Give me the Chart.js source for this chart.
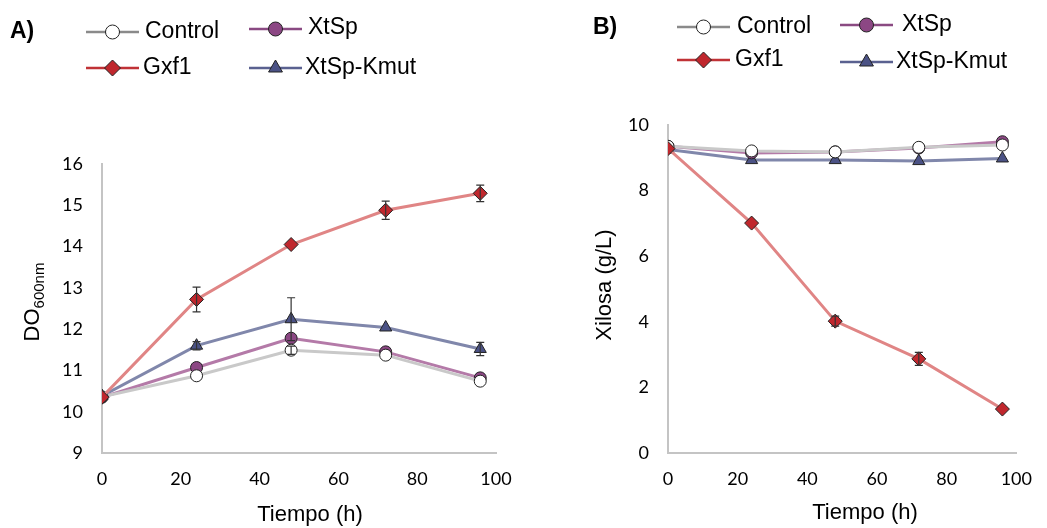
<!DOCTYPE html>
<html>
<head>
<meta charset="utf-8">
<script src="https://cdn.jsdelivr.net/npm/chart.js@4"></script>
<style>
  html, body { margin: 0; padding: 0; background: #fff; }
  #wrap { position: relative; width: 1047px; height: 528px; }
  #left { position: absolute; left: 0; top: 0; }
  #right { position: absolute; left: 535px; top: 0; }
</style>
</head>
<body>
<div id="wrap">
  <canvas id="left" width="535" height="528"></canvas>
  <canvas id="right" width="512" height="528"></canvas>
</div>
<script>
// sampling times (h)
const hours = [0, 24, 48, 72, 96];
const xTicks = [0, 20, 40, 60, 80, 100];

// A) DO600nm
const odControl = [10.36, 10.87, 11.49, 11.37, 10.74];
const odXtSp = [10.35, 11.07, 11.78, 11.45, 10.82];
const odGxf1 = [10.35, 12.72, 14.05, 14.88, 15.29];
const odKmut = [10.38, 11.6, 12.24, 12.04, 11.52];
const odControlErr = [0.03, 0.05, 0.1, 0.05, 0.05];
const odXtSpErr = [0.03, 0.08, 0.05, 0.05, 0.04];
const odGxf1Err = [0.05, 0.3, 0.05, 0.22, 0.2];
const odKmutErr = [0.05, 0.1, 0.52, 0.05, 0.16];

// B) Xilosa (g/L)
const xyControl = [9.35, 9.21, 9.18, 9.32, 9.39];
const xyXtSp = [9.35, 9.15, 9.18, 9.3, 9.49];
const xyGxf1 = [9.28, 7.01, 4.02, 2.87, 1.34];
const xyKmut = [9.25, 8.93, 8.93, 8.9, 8.98];
const xyGxf1Err = [0.05, 0.05, 0.15, 0.2, 0.05];

const series = {
  Control: { line: "#c9c9c9", legendLine: "#8a8a8a", fill: "#ffffff", style: "circle", radius: 6 },
  XtSp: { line: "#b47aa8", legendLine: "#8a4a82", fill: "#8c4784", style: "circle", radius: 6 },
  Gxf1: { line: "#e08585", legendLine: "#c03236", fill: "#c0272d", style: "rectRot", radius: 7 },
  "XtSp-Kmut": { line: "#8087ab", legendLine: "#5a6190", fill: "#4b5285", style: "triangle", radius: 7 },
};

const pts = (ys) => ys.map((y, i) => ({ x: hours[i], y }));

const makeDataset = (name, ys, err) => ({
  label: name,
  data: pts(ys),
  err: err || null,
  borderColor: series[name].line,
  borderWidth: 3,
  pointStyle: series[name].style,
  pointRadius: series[name].radius,
  pointBackgroundColor: series[name].fill,
  pointBorderColor: "#222",
  pointBorderWidth: 1,
  tension: 0,
  fill: false,
});

const errorBars = {
  id: "errorBars",
  afterDatasetsDraw(chart) {
    const ctx = chart.ctx;
    const ys = chart.scales.y;
    ctx.save();
    ctx.strokeStyle = "#333";
    ctx.lineWidth = 1.2;
    chart.data.datasets.forEach((ds, di) => {
      if (!ds.err) return;
      const meta = chart.getDatasetMeta(di);
      meta.data.forEach((pt, i) => {
        const v = ds.data[i].y, e = ds.err[i];
        const top = ys.getPixelForValue(v + e);
        const bot = ys.getPixelForValue(v - e);
        if (bot - top < 8) return;
        ctx.beginPath();
        ctx.moveTo(pt.x, top); ctx.lineTo(pt.x, bot);
        ctx.moveTo(pt.x - 4, top); ctx.lineTo(pt.x + 4, top);
        ctx.moveTo(pt.x - 4, bot); ctx.lineTo(pt.x + 4, bot);
        ctx.stroke();
      });
    });
    ctx.restore();
  },
};

const decorations = {
  id: "decorations",
  afterDraw(chart, args, opts) {
    const ctx = chart.ctx;
    ctx.save();
    ctx.fillStyle = "#000";
    ctx.textBaseline = "middle";
    // panel letter
    ctx.font = "bold 23px 'Liberation Sans', Arial, sans-serif";
    ctx.textAlign = "left";
    ctx.fillText(opts.panel.text, opts.panel.x, opts.panel.y);
    // legend
    opts.legend.forEach((it) => {
      const s = series[it.name];
      ctx.strokeStyle = s.legendLine;
      ctx.lineWidth = 2.5;
      ctx.beginPath();
      ctx.moveTo(it.x, it.y); ctx.lineTo(it.x + 53, it.y);
      ctx.stroke();
      ctx.fillStyle = s.fill;
      ctx.strokeStyle = "#222";
      ctx.lineWidth = 1;
      Chart.helpers.drawPoint(ctx, { pointStyle: s.style, radius: s.radius + 1, borderWidth: 1, rotation: 0 }, it.x + 26.5, it.y);
      ctx.fillStyle = "#000";
      ctx.font = "23px 'Liberation Sans', Arial, sans-serif";
      ctx.fillText(it.name, it.tx, it.ty);
    });
    // x title
    ctx.font = "22px 'Liberation Sans', Arial, sans-serif";
    ctx.textAlign = "center";
    ctx.fillText("Tiempo (h)", opts.xTitle.x, opts.xTitle.y);
    // y title (rotated)
    ctx.translate(opts.yTitle.x, opts.yTitle.y);
    ctx.rotate(-Math.PI / 2);
    const main = opts.yTitle.text;
    const sub = opts.yTitle.sub || "";
    ctx.font = "22px 'Liberation Sans', Arial, sans-serif";
    const wMain = ctx.measureText(main).width;
    ctx.font = "15px 'Liberation Sans', Arial, sans-serif";
    const wSub = ctx.measureText(sub).width;
    const start = -(wMain + wSub) / 2;
    ctx.textAlign = "left";
    ctx.font = "22px 'Liberation Sans', Arial, sans-serif";
    ctx.fillText(main, start, 0);
    if (sub) {
      ctx.font = "15px 'Liberation Sans', Arial, sans-serif";
      ctx.fillText(sub, start + wMain, 7);
    }
    ctx.restore();
  },
};

const baseOptions = (yMin, yMax, yStep, yWidth, pad, deco) => ({
  responsive: false,
  animation: false,
  layout: { padding: pad },
  plugins: { legend: { display: false }, tooltip: { enabled: false }, decorations: deco },
  scales: {
    x: {
      type: "linear", min: 0, max: 100,
      afterBuildTicks: (s) => { s.ticks = xTicks.map((v) => ({ value: v })); },
      afterFit: (s) => { s.height = 75; },
      grid: { display: false, drawTicks: false },
      border: { color: "#c4c4c4", width: 2 },
      ticks: { padding: 15, color: "#000", font: { family: "Lato", size: 18 } },
    },
    y: {
      min: yMin, max: yMax,
      ticks: { stepSize: yStep, padding: 19, color: "#000", font: { family: "Lato", size: 18 } },
      afterFit: (s) => { s.width = yWidth; },
      grid: { display: false, drawTicks: false },
      border: { color: "#c4c4c4", width: 2 },
    },
  },
});

new Chart(document.getElementById("left"), {
  type: "line",
  data: {
    datasets: [
      makeDataset("Gxf1", odGxf1, odGxf1Err),
      makeDataset("Control", odControl, odControlErr),
      makeDataset("XtSp", odXtSp, odXtSpErr),
      makeDataset("XtSp-Kmut", odKmut, odKmutErr),
    ],
  },
  options: baseOptions(9, 16, 1, 102, { top: 164, right: 39, left: 0, bottom: 0 }, {
    panel: { text: "A)", x: 10, y: 32 },
    legend: [
      { name: "Control", x: 86, y: 32, tx: 145, ty: 32 },
      { name: "XtSp", x: 249, y: 29, tx: 308, ty: 28 },
      { name: "Gxf1", x: 86, y: 68, tx: 143, ty: 68 },
      { name: "XtSp-Kmut", x: 249, y: 68, tx: 305, ty: 68 },
    ],
    xTitle: { x: 310, y: 515 },
    yTitle: { x: 33, y: 302, text: "DO", sub: "600nm" },
  }),
  plugins: [errorBars, decorations],
});

new Chart(document.getElementById("right"), {
  type: "line",
  data: {
    datasets: [
      makeDataset("Gxf1", xyGxf1, xyGxf1Err),
      makeDataset("Control", xyControl),
      makeDataset("XtSp", xyXtSp),
      makeDataset("XtSp-Kmut", xyKmut),
    ],
  },
  options: baseOptions(0, 10, 2, 133, { top: 125, right: 18, left: 0, bottom: 0 }, {
    panel: { text: "B)", x: 58, y: 28 },
    legend: [
      { name: "Control", x: 142, y: 27, tx: 202, ty: 27 },
      { name: "XtSp", x: 305, y: 25, tx: 367, ty: 25 },
      { name: "Gxf1", x: 142, y: 60, tx: 200, ty: 60 },
      { name: "XtSp-Kmut", x: 305, y: 62, tx: 361, ty: 62 },
    ],
    xTitle: { x: 330, y: 513 },
    yTitle: { x: 70, y: 285, text: "Xilosa (g/L)" },
  }),
  plugins: [errorBars, decorations],
});
</script>
</body>
</html>
